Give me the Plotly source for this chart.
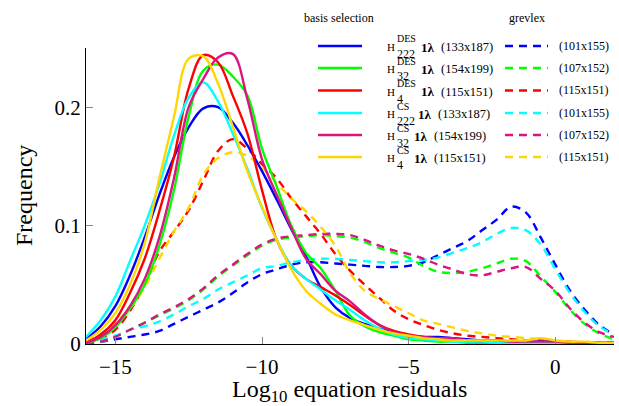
import plotly.graph_objects as go

# ---------------- data ----------------
x_grid = [-16, -15.5, -15, -14.5, -14, -13.5, -13, -12.5, -12, -11.5, -11, -10.5, -10,
          -9.5, -9, -8.5, -8, -7.5, -7, -6.5, -6, -5.5, -5, -4.5, -4, -3.5, -3, -2.5,
          -2, -1.5, -1, -0.5, 0, 0.5, 1, 1.5, 2]

# basis selection (solid)
bs_des_222 = [0.004, 0.015, 0.032, 0.058, 0.09, 0.126, 0.158, 0.183, 0.199, 0.2, 0.187, 0.168, 0.146,
              0.122, 0.097, 0.074, 0.048, 0.031, 0.022, 0.017, 0.013, 0.01, 0.007, 0.006, 0.006, 0.005,
              0.004, 0.003, 0.003, 0.002, 0.002, 0.002, 0.002, 0.001, 0.001, 0.001, 0.001]
bs_des_32 = [0.001, 0.005, 0.014, 0.03, 0.05, 0.083, 0.13, 0.192, 0.231, 0.236, 0.226, 0.21, 0.165,
             0.133, 0.1, 0.077, 0.064, 0.045, 0.024, 0.015, 0.01, 0.007, 0.004, 0.003, 0.002, 0.002,
             0.001, 0.001, 0.001, 0.001, 0.001, 0.001, 0.001, 0.0, 0.0, 0.0, 0.0]
bs_des_4 = [0.001, 0.008, 0.02, 0.043, 0.072, 0.112, 0.158, 0.216, 0.244, 0.238, 0.21, 0.178, 0.13,
            0.088, 0.066, 0.055, 0.048, 0.041, 0.033, 0.024, 0.016, 0.011, 0.008, 0.006, 0.004, 0.003,
            0.003, 0.002, 0.002, 0.002, 0.002, 0.001, 0.001, 0.001, 0.001, 0.0, 0.0]
bs_cs_222 = [0.006, 0.02, 0.04, 0.07, 0.1, 0.135, 0.176, 0.208, 0.221, 0.205, 0.178, 0.148, 0.115,
             0.088, 0.066, 0.055, 0.046, 0.037, 0.029, 0.02, 0.013, 0.008, 0.005, 0.004, 0.003, 0.002,
             0.002, 0.002, 0.001, 0.001, 0.001, 0.001, 0.001, 0.0, 0.0, 0.0, 0.0]
bs_cs_32 = [0.001, 0.006, 0.016, 0.032, 0.055, 0.09, 0.14, 0.2, 0.224, 0.242, 0.245, 0.207, 0.156,
            0.126, 0.098, 0.072, 0.059, 0.045, 0.036, 0.025, 0.016, 0.01, 0.007, 0.006, 0.005, 0.005,
            0.003, 0.003, 0.003, 0.002, 0.002, 0.002, 0.002, 0.001, 0.001, 0.0, 0.0]
bs_cs_4 = [0.003, 0.012, 0.026, 0.05, 0.085, 0.14, 0.192, 0.241, 0.243, 0.22, 0.184, 0.146, 0.116,
           0.088, 0.063, 0.045, 0.034, 0.025, 0.02, 0.016, 0.012, 0.009, 0.007, 0.005, 0.004, 0.003,
           0.003, 0.003, 0.003, 0.003, 0.003, 0.005, 0.003, 0.002, 0.002, 0.001, 0.001]

# grevlex (dashed)
gr_des_222 = [0.001, 0.002, 0.004, 0.006, 0.008, 0.011, 0.017, 0.023, 0.029, 0.035, 0.043, 0.052, 0.059,
              0.063, 0.067, 0.069, 0.069, 0.068, 0.067, 0.066, 0.065, 0.065, 0.066, 0.069, 0.075, 0.081,
              0.087, 0.096, 0.105, 0.116, 0.111, 0.09, 0.067, 0.045, 0.029, 0.016, 0.008]
gr_des_32 = [0.001, 0.002, 0.006, 0.012, 0.018, 0.024, 0.03, 0.037, 0.046, 0.057, 0.066, 0.075, 0.083,
             0.088, 0.09, 0.091, 0.092, 0.091, 0.09, 0.086, 0.081, 0.077, 0.073, 0.066, 0.061, 0.06,
             0.061, 0.064, 0.068, 0.072, 0.07, 0.057, 0.044, 0.029, 0.017, 0.009, 0.004]
gr_des_4 = [0.001, 0.005, 0.012, 0.028, 0.05, 0.078, 0.095, 0.113, 0.138, 0.163, 0.173, 0.165, 0.152,
            0.14, 0.123, 0.108, 0.093, 0.076, 0.062, 0.05, 0.039, 0.028, 0.021, 0.016, 0.012, 0.009,
            0.007, 0.006, 0.005, 0.004, 0.003, 0.003, 0.002, 0.002, 0.001, 0.001, 0.001]
gr_cs_222 = [0.002, 0.004, 0.007, 0.012, 0.015, 0.019, 0.025, 0.032, 0.038, 0.046, 0.052, 0.058, 0.064,
             0.066, 0.069, 0.071, 0.072, 0.072, 0.071, 0.07, 0.069, 0.069, 0.07, 0.071, 0.073, 0.077,
             0.081, 0.086, 0.093, 0.098, 0.096, 0.084, 0.063, 0.043, 0.027, 0.015, 0.008]
gr_cs_32 = [0.001, 0.002, 0.006, 0.012, 0.018, 0.025, 0.031, 0.038, 0.047, 0.058, 0.067, 0.076, 0.084,
            0.089, 0.091, 0.092, 0.093, 0.093, 0.092, 0.088, 0.083, 0.079, 0.076, 0.072, 0.067, 0.063,
            0.059, 0.058, 0.061, 0.064, 0.065, 0.055, 0.045, 0.03, 0.018, 0.01, 0.006]
gr_cs_4 = [0.003, 0.008, 0.018, 0.03, 0.048, 0.072, 0.095, 0.115, 0.143, 0.157, 0.162, 0.159, 0.149,
           0.136, 0.123, 0.112, 0.099, 0.083, 0.06, 0.045, 0.038, 0.032, 0.026, 0.02, 0.017, 0.014,
           0.011, 0.009, 0.007, 0.006, 0.005, 0.004, 0.003, 0.002, 0.002, 0.001, 0.001]

x_ticks = [-15, -10, -5, 0]
y_ticks = [0, 0.1, 0.2]
y_tick_labels = ["0", "0.1", "0.2"]

sup_labels = ["DES", "DES", "DES", "CS", "CS", "CS"]
sub_labels = ["222", "32", "4", "222", "32", "4"]
bs_sizes = ["(133x187)", "(154x199)", "(115x151)", "(133x187)", "(154x199)", "(115x151)"]
gr_sizes = ["(101x155)", "(107x152)", "(115x151)", "(101x155)", "(107x152)", "(115x151)"]
colors = ["#0000ff", "#00ff00", "#ff0000", "#00ffff", "#d9157f", "#ffd700"]
bs_series = [bs_des_222, bs_des_32, bs_des_4, bs_cs_222, bs_cs_32, bs_cs_4]
gr_series = [gr_des_222, gr_des_32, gr_des_4, gr_cs_222, gr_cs_32, gr_cs_4]

# ---------------- layout geometry ----------------
W, H = 619, 406
L, R, T, B = 86, 5, 48, 62
PW, PH = W - L - R, H - T - B
SERIF = "Liberation Serif"


def px(xp):
    return (xp - L) / PW


def py(yp):
    return (H - B - yp) / PH


fig = go.Figure()

for ys, c in zip(gr_series, colors):
    fig.add_trace(go.Scatter(x=x_grid, y=ys, mode="lines", line_shape="spline",
                             line=dict(color=c, width=2.4, dash="8px,6px"), showlegend=False,
                             hoverinfo="skip"))
for ys, c in zip(bs_series, colors):
    fig.add_trace(go.Scatter(x=x_grid, y=ys, mode="lines", line_shape="spline",
                             line=dict(color=c, width=2.4), showlegend=False, hoverinfo="skip"))

annotations = []
shapes = []


def ann(text, xp, yp, size, xanchor="left", **kw):
    annotations.append(dict(text=text, x=px(xp), y=py(yp), xref="paper", yref="paper",
                            xanchor=xanchor, yanchor="middle", showarrow=False, borderpad=0,
                            borderwidth=0,
                            font=dict(family=SERIF, size=size, color="black"), **kw))


# legend headers
ann("basis selection", 339, 18, 12, xanchor="center")
ann("grevlex", 527, 18, 12, xanchor="center")

row_y = [46, 68, 90.5, 113, 135, 157]
for i in range(6):
    yr = row_y[i]
    shapes.append(dict(type="line", xref="paper", yref="paper", x0=px(318), x1=px(362),
                       y0=py(yr), y1=py(yr), line=dict(color=colors[i], width=2.4)))
    shapes.append(dict(type="line", xref="paper", yref="paper", x0=px(505), x1=px(548),
                       y0=py(yr), y1=py(yr), line=dict(color=colors[i], width=2.4, dash="8px,6px")))
    ann("H", 387, yr + 1, 11)
    ann(sup_labels[i], 397, yr - 7, 10)
    ann(sub_labels[i], 397, yr + 8, 12)
    wsup = 22 if sup_labels[i] == "DES" else 15
    wsub = 6.3 * len(sub_labels[i])
    x1 = 399 + max(wsup, wsub)
    ann("<b>1λ</b>", x1, yr + 1, 13)
    ann(bs_sizes[i], x1 + 20, yr + 1, 12.5)
    ann(gr_sizes[i], 559, yr, 12)

# axis titles
ann("Frequency", 24, 196, 24, xanchor="center", textangle=-90)
ann("Log<sub>10</sub> equation residuals", 349, 391, 24, xanchor="center")

fig.update_layout(
    width=W, height=H,
    margin=dict(l=L, r=R, t=T, b=B),
    paper_bgcolor="white", plot_bgcolor="white",
    annotations=annotations, shapes=shapes,
    font=dict(family=SERIF, color="black"),
    xaxis=dict(range=[-16, 2], tickvals=x_ticks, ticks="inside", ticklen=7, tickcolor="#888888",
               showline=True, linecolor="black", linewidth=1.2, showgrid=False, zeroline=False,
               ticklabelstandoff=4,
               tickfont=dict(family=SERIF, size=21, color="black")),
    yaxis=dict(range=[0, 0.25], tickvals=y_ticks, ticktext=y_tick_labels, ticks="inside",
               ticklen=7, tickcolor="#888888", showline=True, linecolor="black", linewidth=1.2,
               showgrid=False, zeroline=False,
               tickfont=dict(family=SERIF, size=21, color="black")),
)

fig.write_html("out.html", config={"displayModeBar": False},
               post_script="document.body.style.margin='0px';document.body.style.padding='0px';")
